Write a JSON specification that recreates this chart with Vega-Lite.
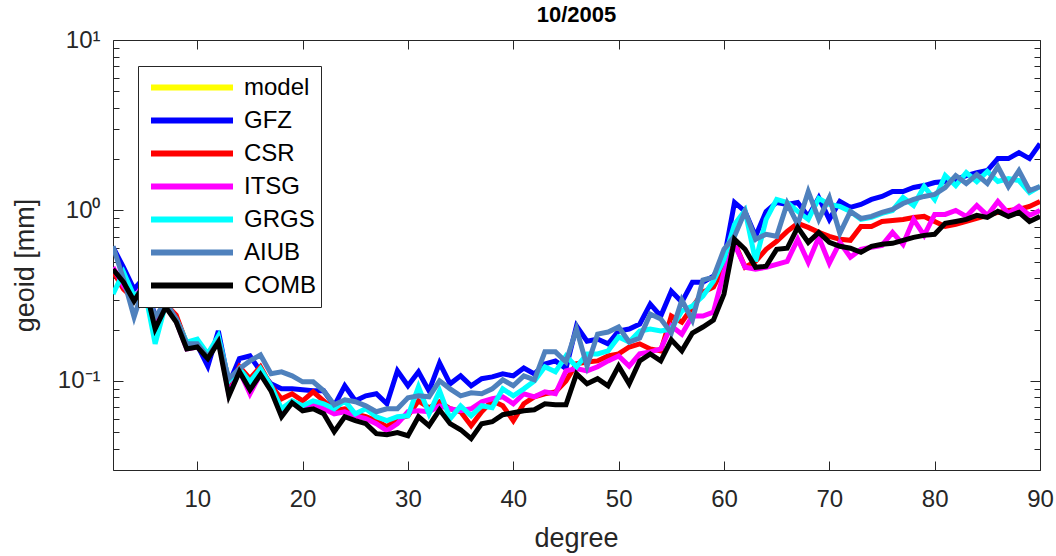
{
  "$schema": "https://vega.github.io/schema/vega-lite/v6.json",
  "autosize": "none",
  "width": 927,
  "height": 430,
  "padding": {"left": 113, "top": 40, "right": 16, "bottom": 86},
  "background": "white",
  "title": {"text": "10/2005", "fontSize": 22, "fontWeight": "bold", "font": "Liberation Sans", "color": "black", "anchor": "middle", "offset": 1},
  "config": {"view": {"stroke": "#262626", "strokeWidth": 1}, "font": "Liberation Sans"},
  "data": {"values": [
    {"d":2,"GFZ":0.608,"CSR":0.440,"ITSG":0.464,"GRGS":0.323,"AIUB":0.616,"COMB":0.452},
    {"d":3,"GFZ":0.464,"CSR":0.345,"ITSG":0.360,"GRGS":0.434,"AIUB":0.395,"COMB":0.379},
    {"d":4,"GFZ":0.345,"CSR":0.302,"ITSG":0.302,"GRGS":0.314,"AIUB":0.237,"COMB":0.294},
    {"d":5,"GFZ":0.406,"CSR":0.369,"ITSG":0.379,"GRGS":0.345,"AIUB":0.369,"COMB":0.369},
    {"d":6,"GFZ":0.237,"CSR":0.216,"ITSG":0.207,"GRGS":0.165,"AIUB":0.237,"COMB":0.202},
    {"d":7,"GFZ":0.282,"CSR":0.282,"ITSG":0.275,"GRGS":0.282,"AIUB":0.290,"COMB":0.271},
    {"d":8,"GFZ":0.237,"CSR":0.243,"ITSG":0.224,"GRGS":0.231,"AIUB":0.231,"COMB":0.221},
    {"d":9,"GFZ":0.165,"CSR":0.165,"ITSG":0.154,"GRGS":0.169,"AIUB":0.165,"COMB":0.154},
    {"d":10,"GFZ":0.162,"CSR":0.165,"ITSG":0.158,"GRGS":0.176,"AIUB":0.165,"COMB":0.158},
    {"d":11,"GFZ":0.122,"CSR":0.144,"ITSG":0.138,"GRGS":0.144,"AIUB":0.138,"COMB":0.135},
    {"d":12,"GFZ":0.196,"CSR":0.176,"ITSG":0.176,"GRGS":0.183,"AIUB":0.171,"COMB":0.169},
    {"d":13,"GFZ":0.0961,"CSR":0.0898,"ITSG":0.0840,"GRGS":0.100,"AIUB":0.103,"COMB":0.0817},
    {"d":14,"GFZ":0.135,"CSR":0.121,"ITSG":0.115,"GRGS":0.118,"AIUB":0.118,"COMB":0.113},
    {"d":15,"GFZ":0.140,"CSR":0.103,"ITSG":0.0840,"GRGS":0.0987,"AIUB":0.131,"COMB":0.0886},
    {"d":16,"GFZ":0.114,"CSR":0.121,"ITSG":0.110,"GRGS":0.118,"AIUB":0.142,"COMB":0.109},
    {"d":17,"GFZ":0.0961,"CSR":0.0936,"ITSG":0.0898,"GRGS":0.0936,"AIUB":0.110,"COMB":0.0874},
    {"d":18,"GFZ":0.0898,"CSR":0.0785,"ITSG":0.0641,"GRGS":0.0686,"AIUB":0.113,"COMB":0.0616},
    {"d":19,"GFZ":0.0898,"CSR":0.0840,"ITSG":0.0754,"GRGS":0.0764,"AIUB":0.107,"COMB":0.0744},
    {"d":20,"GFZ":0.0886,"CSR":0.0764,"ITSG":0.0695,"GRGS":0.0714,"AIUB":0.0987,"COMB":0.0668},
    {"d":21,"GFZ":0.0874,"CSR":0.0862,"ITSG":0.0734,"GRGS":0.0764,"AIUB":0.0987,"COMB":0.0686},
    {"d":22,"GFZ":0.0874,"CSR":0.0764,"ITSG":0.0686,"GRGS":0.0734,"AIUB":0.0874,"COMB":0.0641},
    {"d":23,"GFZ":0.0714,"CSR":0.0668,"ITSG":0.0641,"GRGS":0.0686,"AIUB":0.0724,"COMB":0.0503},
    {"d":24,"GFZ":0.0936,"CSR":0.0686,"ITSG":0.0659,"GRGS":0.0764,"AIUB":0.0774,"COMB":0.0616},
    {"d":25,"GFZ":0.0764,"CSR":0.0641,"ITSG":0.0624,"GRGS":0.0641,"AIUB":0.0754,"COMB":0.0584},
    {"d":26,"GFZ":0.0817,"CSR":0.0616,"ITSG":0.0600,"GRGS":0.0686,"AIUB":0.0714,"COMB":0.0561},
    {"d":27,"GFZ":0.0840,"CSR":0.0584,"ITSG":0.0561,"GRGS":0.0616,"AIUB":0.0659,"COMB":0.0490},
    {"d":28,"GFZ":0.0734,"CSR":0.0539,"ITSG":0.0510,"GRGS":0.0584,"AIUB":0.0686,"COMB":0.0483},
    {"d":29,"GFZ":0.1145,"CSR":0.0600,"ITSG":0.0561,"GRGS":0.0616,"AIUB":0.0686,"COMB":0.0497},
    {"d":30,"GFZ":0.0936,"CSR":0.0624,"ITSG":0.0659,"GRGS":0.0624,"AIUB":0.0796,"COMB":0.0477},
    {"d":31,"GFZ":0.113,"CSR":0.0764,"ITSG":0.0668,"GRGS":0.0923,"AIUB":0.0817,"COMB":0.0616},
    {"d":32,"GFZ":0.0874,"CSR":0.0695,"ITSG":0.0659,"GRGS":0.0641,"AIUB":0.0806,"COMB":0.0546},
    {"d":33,"GFZ":0.1275,"CSR":0.0754,"ITSG":0.0714,"GRGS":0.0874,"AIUB":0.100,"COMB":0.0677},
    {"d":34,"GFZ":0.0961,"CSR":0.0686,"ITSG":0.0686,"GRGS":0.0600,"AIUB":0.0898,"COMB":0.0561},
    {"d":35,"GFZ":0.107,"CSR":0.0659,"ITSG":0.0668,"GRGS":0.0714,"AIUB":0.0817,"COMB":0.0517},
    {"d":36,"GFZ":0.0936,"CSR":0.0546,"ITSG":0.0686,"GRGS":0.0624,"AIUB":0.0851,"COMB":0.0458},
    {"d":37,"GFZ":0.103,"CSR":0.0659,"ITSG":0.0754,"GRGS":0.0714,"AIUB":0.0840,"COMB":0.0561},
    {"d":38,"GFZ":0.1056,"CSR":0.0764,"ITSG":0.0785,"GRGS":0.0695,"AIUB":0.0898,"COMB":0.0576},
    {"d":39,"GFZ":0.110,"CSR":0.0714,"ITSG":0.0806,"GRGS":0.0898,"AIUB":0.1014,"COMB":0.0633},
    {"d":40,"GFZ":0.107,"CSR":0.0584,"ITSG":0.0734,"GRGS":0.0817,"AIUB":0.0936,"COMB":0.0650},
    {"d":41,"GFZ":0.119,"CSR":0.0734,"ITSG":0.0840,"GRGS":0.0898,"AIUB":0.107,"COMB":0.0668},
    {"d":42,"GFZ":0.110,"CSR":0.0806,"ITSG":0.0806,"GRGS":0.100,"AIUB":0.1014,"COMB":0.0677},
    {"d":43,"GFZ":0.1257,"CSR":0.0840,"ITSG":0.0862,"GRGS":0.121,"AIUB":0.148,"COMB":0.0734},
    {"d":44,"GFZ":0.131,"CSR":0.0862,"ITSG":0.0840,"GRGS":0.113,"AIUB":0.148,"COMB":0.0724},
    {"d":45,"GFZ":0.118,"CSR":0.100,"ITSG":0.1145,"GRGS":0.140,"AIUB":0.129,"COMB":0.0724},
    {"d":46,"GFZ":0.210,"CSR":0.126,"ITSG":0.118,"GRGS":0.121,"AIUB":0.2015,"COMB":0.110},
    {"d":47,"GFZ":0.171,"CSR":0.129,"ITSG":0.1145,"GRGS":0.144,"AIUB":0.122,"COMB":0.0961},
    {"d":48,"GFZ":0.176,"CSR":0.131,"ITSG":0.121,"GRGS":0.144,"AIUB":0.188,"COMB":0.103},
    {"d":49,"GFZ":0.165,"CSR":0.140,"ITSG":0.131,"GRGS":0.150,"AIUB":0.1935,"COMB":0.0936},
    {"d":50,"GFZ":0.196,"CSR":0.144,"ITSG":0.140,"GRGS":0.181,"AIUB":0.207,"COMB":0.122},
    {"d":51,"GFZ":0.2015,"CSR":0.158,"ITSG":0.122,"GRGS":0.169,"AIUB":0.169,"COMB":0.0961},
    {"d":52,"GFZ":0.2155,"CSR":0.165,"ITSG":0.144,"GRGS":0.196,"AIUB":0.1785,"COMB":0.131},
    {"d":53,"GFZ":0.282,"CSR":0.154,"ITSG":0.148,"GRGS":0.2015,"AIUB":0.2465,"COMB":0.144},
    {"d":54,"GFZ":0.240,"CSR":0.150,"ITSG":0.154,"GRGS":0.196,"AIUB":0.2305,"COMB":0.131},
    {"d":55,"GFZ":0.336,"CSR":0.240,"ITSG":0.210,"GRGS":0.2015,"AIUB":0.191,"COMB":0.174},
    {"d":56,"GFZ":0.290,"CSR":0.221,"ITSG":0.188,"GRGS":0.257,"AIUB":0.298,"COMB":0.150},
    {"d":57,"GFZ":0.379,"CSR":0.271,"ITSG":0.240,"GRGS":0.275,"AIUB":0.227,"COMB":0.191},
    {"d":58,"GFZ":0.379,"CSR":0.3315,"ITSG":0.240,"GRGS":0.314,"AIUB":0.390,"COMB":0.207},
    {"d":59,"GFZ":0.411,"CSR":0.355,"ITSG":0.253,"GRGS":0.3845,"AIUB":0.406,"COMB":0.227},
    {"d":60,"GFZ":0.517,"CSR":0.464,"ITSG":0.434,"GRGS":0.517,"AIUB":0.5915,"COMB":0.323},
    {"d":61,"GFZ":1.114,"CSR":0.650,"ITSG":0.633,"GRGS":0.828,"AIUB":0.705,"COMB":0.677},
    {"d":62,"GFZ":0.987,"CSR":0.464,"ITSG":0.464,"GRGS":1.0,"AIUB":0.987,"COMB":0.5915},
    {"d":63,"GFZ":0.705,"CSR":0.503,"ITSG":0.452,"GRGS":0.503,"AIUB":0.677,"COMB":0.464},
    {"d":64,"GFZ":0.987,"CSR":0.5915,"ITSG":0.464,"GRGS":0.886,"AIUB":0.724,"COMB":0.4705},
    {"d":65,"GFZ":1.114,"CSR":0.659,"ITSG":0.483,"GRGS":1.160,"AIUB":0.705,"COMB":0.5915},
    {"d":66,"GFZ":1.0845,"CSR":0.754,"ITSG":0.503,"GRGS":1.114,"AIUB":1.099,"COMB":0.600},
    {"d":67,"GFZ":1.114,"CSR":0.8395,"ITSG":0.677,"GRGS":0.987,"AIUB":0.828,"COMB":0.7955},
    {"d":68,"GFZ":0.9225,"CSR":0.7955,"ITSG":0.4965,"GRGS":0.886,"AIUB":1.292,"COMB":0.650},
    {"d":69,"GFZ":1.19,"CSR":0.7436,"ITSG":0.695,"GRGS":1.176,"AIUB":0.886,"COMB":0.7436},
    {"d":70,"GFZ":0.886,"CSR":0.705,"ITSG":0.490,"GRGS":1.085,"AIUB":1.19,"COMB":0.650},
    {"d":71,"GFZ":1.129,"CSR":0.677,"ITSG":0.650,"GRGS":1.056,"AIUB":0.734,"COMB":0.616},
    {"d":72,"GFZ":1.042,"CSR":0.668,"ITSG":0.531,"GRGS":0.987,"AIUB":0.987,"COMB":0.600},
    {"d":73,"GFZ":1.0845,"CSR":0.806,"ITSG":0.5915,"GRGS":0.886,"AIUB":0.898,"COMB":0.568},
    {"d":74,"GFZ":1.160,"CSR":0.806,"ITSG":0.608,"GRGS":0.910,"AIUB":0.9225,"COMB":0.616},
    {"d":75,"GFZ":1.208,"CSR":0.862,"ITSG":0.624,"GRGS":0.9605,"AIUB":0.9735,"COMB":0.633},
    {"d":76,"GFZ":1.292,"CSR":0.874,"ITSG":0.744,"GRGS":1.0,"AIUB":1.014,"COMB":0.641},
    {"d":77,"GFZ":1.292,"CSR":0.886,"ITSG":0.633,"GRGS":1.192,"AIUB":1.099,"COMB":0.668},
    {"d":78,"GFZ":1.363,"CSR":0.910,"ITSG":0.886,"GRGS":1.070,"AIUB":1.160,"COMB":0.695},
    {"d":79,"GFZ":1.400,"CSR":0.9225,"ITSG":0.714,"GRGS":1.382,"AIUB":1.208,"COMB":0.714},
    {"d":80,"GFZ":1.458,"CSR":0.862,"ITSG":0.948,"GRGS":1.160,"AIUB":1.241,"COMB":0.724},
    {"d":81,"GFZ":1.478,"CSR":0.806,"ITSG":0.948,"GRGS":1.602,"AIUB":1.363,"COMB":0.840},
    {"d":82,"GFZ":1.518,"CSR":0.828,"ITSG":1.0,"GRGS":1.400,"AIUB":1.602,"COMB":0.862},
    {"d":83,"GFZ":1.602,"CSR":0.862,"ITSG":0.9225,"GRGS":1.668,"AIUB":1.438,"COMB":0.886},
    {"d":84,"GFZ":1.668,"CSR":0.898,"ITSG":1.070,"GRGS":1.478,"AIUB":1.624,"COMB":0.935},
    {"d":85,"GFZ":1.714,"CSR":0.935,"ITSG":0.935,"GRGS":1.691,"AIUB":1.438,"COMB":0.910},
    {"d":86,"GFZ":2.015,"CSR":0.9735,"ITSG":1.129,"GRGS":1.478,"AIUB":1.808,"COMB":0.987},
    {"d":87,"GFZ":2.015,"CSR":1.0,"ITSG":0.9605,"GRGS":1.539,"AIUB":1.3815,"COMB":0.9225},
    {"d":88,"GFZ":2.184,"CSR":1.014,"ITSG":1.056,"GRGS":1.498,"AIUB":1.714,"COMB":0.9735},
    {"d":89,"GFZ":2.015,"CSR":1.056,"ITSG":0.935,"GRGS":1.2745,"AIUB":1.309,"COMB":0.862},
    {"d":90,"GFZ":2.465,"CSR":1.129,"ITSG":1.0,"GRGS":1.382,"AIUB":1.382,"COMB":0.9225}
  ]},
  "transform": [{"fold": ["GFZ", "CSR", "ITSG", "GRGS", "AIUB", "COMB"], "as": ["series", "v"]}],
  "layer": [
    {
      "mark": {"type": "line", "strokeWidth": 5, "clip": true, "strokeMiterLimit": 4},
      "encoding": {
        "x": {"field": "d", "type": "quantitative",
          "scale": {"domain": [2, 90], "nice": false, "zero": false},
          "axis": {"values": [10, 20, 30, 40, 50, 60, 70, 80, 90], "tickSize": -9, "tickColor": "#262626", "domain": false, "grid": false,
            "labelFontSize": 24, "labelColor": "#262626", "labelPadding": 26, "labelFlush": false, "labelOverlap": false,
            "title": "degree", "titleFontSize": 27, "titleFontWeight": "normal", "titleColor": "#262626",
            "titleX": 463, "titleY": 68, "titleBaseline": "middle", "titleAlign": "center"}},
        "y": {"field": "v", "type": "quantitative",
          "scale": {"type": "log", "domain": [0.03, 10], "nice": false},
          "axis": {"values": [0.03, 0.04, 0.05, 0.06, 0.07, 0.08, 0.09, 0.1, 0.2, 0.3, 0.4, 0.5, 0.6, 0.7, 0.8, 0.9, 1, 2, 3, 4, 5, 6, 7, 8, 9, 10],
            "labelExpr": "datum.value == 10 ? '10¹' : datum.value == 1 ? '10⁰' : datum.value == 0.1 ? '10⁻¹' : ''",
            "tickSize": {"condition": {"test": "datum.value == 0.1 || datum.value == 1 || datum.value == 10", "value": -10}, "value": -6},
            "tickColor": "#262626", "domain": false, "grid": false,
            "labelFontSize": 24, "labelColor": "#262626", "labelPadding": 23, "labelOverlap": false, "labelBound": false, "labelFlush": false,
            "title": "geoid [mm]", "titleFontSize": 27, "titleFontWeight": "normal", "titleColor": "#262626",
            "titleX": -88, "titleY": 225, "titleAngle": -90, "titleAlign": "center", "titleBaseline": "middle"}},
        "color": {"field": "series", "type": "nominal",
          "scale": {"domain": ["model", "GFZ", "CSR", "ITSG", "GRGS", "AIUB", "COMB"],
                    "range": ["#FFFF00", "#0000FF", "#FF0000", "#FF00FF", "#00FFFF", "#4F81BD", "#000000"]},
          "legend": {"orient": "none", "legendX": 25, "legendY": 26, "title": null, "fillColor": "white", "strokeColor": "#262626",
            "padding": 5, "symbolType": "stroke", "symbolSize": 6724, "symbolStrokeWidth": 6, "symbolOffset": 5,
            "labelFontSize": 24, "labelColor": "black", "labelFont": "Liberation Sans", "clipHeight": 33, "rowPadding": 0, "labelOffset": 8}}
      }
    },
    {
      "mark": {"type": "line", "opacity": 0},
      "encoding": {
        "x": {"field": "d", "type": "quantitative",
          "axis": {"orient": "top", "values": [10, 20, 30, 40, 50, 60, 70, 80, 90], "tickSize": -9, "tickColor": "#262626", "domain": false, "grid": false, "labels": false, "title": null}},
        "y": {"field": "v", "type": "quantitative",
          "axis": {"orient": "right", "values": [0.03, 0.04, 0.05, 0.06, 0.07, 0.08, 0.09, 0.1, 0.2, 0.3, 0.4, 0.5, 0.6, 0.7, 0.8, 0.9, 1, 2, 3, 4, 5, 6, 7, 8, 9, 10],
            "tickSize": {"condition": {"test": "datum.value == 0.1 || datum.value == 1 || datum.value == 10", "value": -10}, "value": -6},
            "tickColor": "#262626", "domain": false, "grid": false, "labels": false, "title": null}},
        "detail": {"field": "series"}
      }
    }
  ],
  "resolve": {"axis": {"x": "independent", "y": "independent"}}
}
